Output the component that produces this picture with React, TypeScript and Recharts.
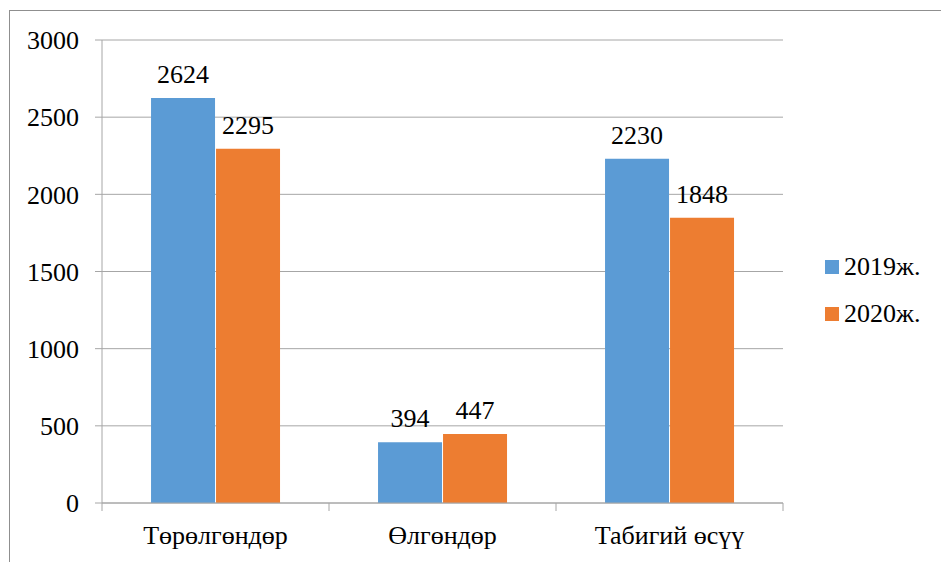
import React from 'react'
import { BarChart, Bar, XAxis, YAxis, CartesianGrid, Legend, LabelList } from 'recharts'

const categories = ['Төрөлгөндөр', 'Өлгөндөр', 'Табигий өсүү']
const series2019 = [2624, 394, 2230]
const series2020 = [2295, 447, 1848]
const yTicks = [0, 500, 1000, 1500, 2000, 2500, 3000]
const seriesNames = ['2019ж.', '2020ж.']

const W = 941
const H = 562
const FONT = "'Liberation Serif', 'Times New Roman', Tinos, 'DejaVu Serif', serif"
const GRID = '#a6a6a6'
const BLUE = '#5b9bd5'
const ORANGE = '#ed7d31'

const M = { top: 40, right: 158, left: 0, bottom: 9 }
const Y_W = 102
const X_H = 50
const PLOT_W = W - M.left - M.right - Y_W
const TICK_SIZE = 8
const TICK_MARGIN = 15

const data = categories.map((name, i) => ({
  name,
  y2019: series2019[i],
  y2020: series2020[i],
}))

function CategoryTick(props: any) {
  const { x, y, payload, index } = props
  const band = PLOT_W / categories.length
  const axisY = y - TICK_SIZE - TICK_MARGIN
  const left = x - band / 2
  return (
    <g>
      <line x1={left} x2={left} y1={axisY} y2={axisY + TICK_SIZE} stroke={GRID} />
      {index === categories.length - 1 && (
        <line x1={left + band} x2={left + band} y1={axisY} y2={axisY + TICK_SIZE} stroke={GRID} />
      )}
      <text x={x} y={y} dy="0.71em" textAnchor="middle" fill="#000" style={{ fontSize: 26, fontFamily: FONT }}>
        {payload.value}
      </text>
    </g>
  )
}

function LegendBox() {
  const colors = [BLUE, ORANGE]
  return (
    <div style={{ fontFamily: FONT, fontSize: 26, color: '#000' }}>
      {seriesNames.map((n, i) => (
        <div key={n} style={{ display: 'flex', alignItems: 'center', height: 47 }}>
          <span style={{ width: 14, height: 14, background: colors[i], marginRight: 5, display: 'inline-block' }} />
          <span>{n}</span>
        </div>
      ))}
    </div>
  )
}

export default function App() {
  return (
    <div style={{ position: 'absolute', left: 0, top: 0, width: W, height: H, overflow: 'hidden', background: '#fff', fontFamily: FONT }}>
      <div
        style={{
          position: 'absolute',
          left: 9,
          top: 10,
          width: 1000,
          height: 1000,
          borderLeft: '1px solid #8f8f8f',
          borderTop: '1px solid #8f8f8f',
        }}
      />
      <BarChart width={W} height={H} data={data} margin={M} barCategoryGap="21.6%" barGap={1} style={{ fontFamily: FONT }}>
        <CartesianGrid vertical={false} stroke={GRID} />
        <XAxis
          dataKey="name"
          height={X_H}
          axisLine={{ stroke: GRID }}
          tickLine={false}
          tickSize={TICK_SIZE}
          tickMargin={TICK_MARGIN}
          tick={<CategoryTick />}
          interval={0}
        />
        <YAxis
          width={Y_W}
          domain={[0, 3000]}
          ticks={yTicks}
          axisLine={{ stroke: GRID }}
          tickLine={{ stroke: GRID }}
          tickSize={7}
          tickMargin={16}
          tick={{ fill: '#000', fontSize: 26, style: { fontFamily: FONT } }}
        />
        <Legend
          layout="vertical"
          align="center"
          verticalAlign="middle"
          content={<LegendBox />}
          wrapperStyle={{ left: 825, top: 243, width: 116 }}
        />
        <Bar dataKey="y2019" name={seriesNames[0]} fill={BLUE} isAnimationActive={false}>
          <LabelList dataKey="y2019" position="top" offset={15} fill="#000" fontSize={26} style={{ fontFamily: FONT }} />
        </Bar>
        <Bar dataKey="y2020" name={seriesNames[1]} fill={ORANGE} isAnimationActive={false}>
          <LabelList dataKey="y2020" position="top" offset={15} fill="#000" fontSize={26} style={{ fontFamily: FONT }} />
        </Bar>
      </BarChart>
    </div>
  )
}
